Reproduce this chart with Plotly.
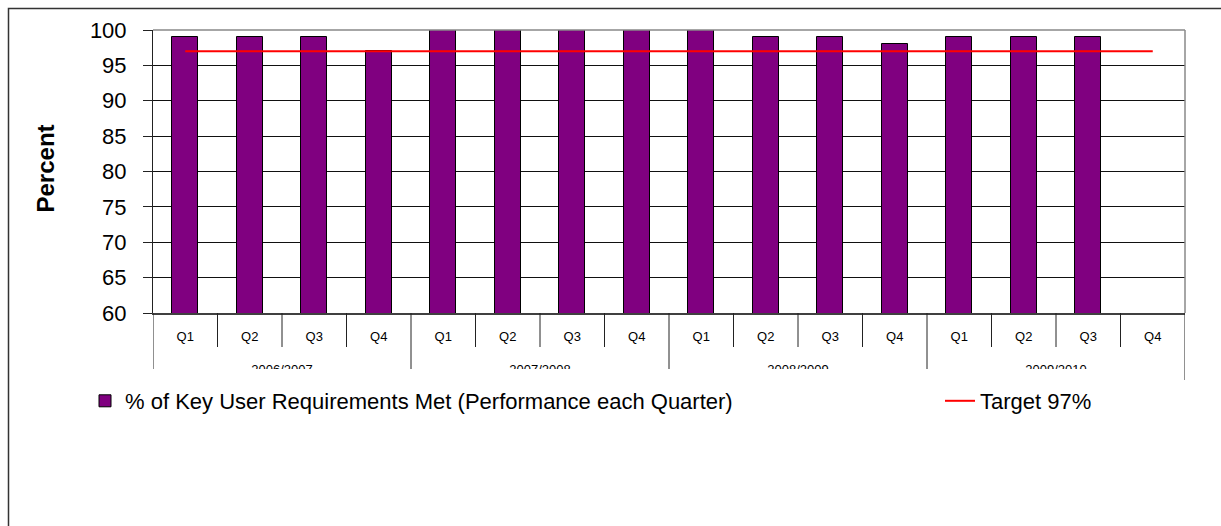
import plotly.graph_objects as go

years = ["2006/2007", "2007/2008", "2008/2009", "2009/2010"]
quarters = ["Q1", "Q2", "Q3", "Q4"]
categories = [q for y in years for q in quarters]
performance = [99, 99, 99, 97, 100, 100, 100, 100, 100, 99, 99, 98, 99, 99, 99, None]
target = [97] * len(categories)
bar_name = "% of Key User Requirements Met (Performance each Quarter)"
line_name = "Target 97%"

W, H = 1221, 526
ML, MR, MT, MB = 153, 36, 30, 157
PW = W - ML - MR
plot_h = H - MT - MB
axis_px = 313  # pixel of y=60
d = (H - MB - axis_px) / plot_h

xs = list(range(len(categories)))
FONT = "Arial, Liberation Sans, sans-serif"

fig = go.Figure()
fig.add_trace(go.Bar(x=xs, y=performance, width=0.4, name=bar_name,
                     marker=dict(color="#800080", line=dict(color="black", width=1)),
                     xaxis="x", yaxis="y", legend="legend"))
fig.add_trace(go.Scatter(x=xs, y=target, mode="lines", name=line_name,
                         line=dict(color="#FF0000", width=2), xaxis="x", yaxis="y",
                         legend="legend2"))

# year labels (clipped to their strip)
nq = len(quarters)
year_x = [i * nq + (nq - 1) / 2 for i in range(len(years))]
fig.add_trace(go.Scatter(x=year_x, y=[-0.035] * len(years), mode="text", text=years,
                         textfont=dict(size=13, color="black", family=FONT),
                         textposition="middle center", cliponaxis=True,
                         showlegend=False, hoverinfo="skip", xaxis="x2", yaxis="y2"))

shapes = []
def ypaper(px):
    return (H - MB - px) / plot_h

# separators
for b in range(len(categories) + 1):
    xb = b - 0.5
    if b % nq == 0:
        bottom = 380 if b == len(categories) else H - MB
    else:
        bottom = 347
    shapes.append(dict(type="line", xref="x", yref="paper", x0=xb, x1=xb,
                       y0=ypaper(axis_px), y1=ypaper(bottom),
                       line=dict(color="#222", width=1)))
# top and right gray frame
shapes.append(dict(type="line", xref="paper", yref="paper", x0=0, x1=1, y0=1, y1=1,
                   line=dict(color="#888", width=1.5), layer="above"))
shapes.append(dict(type="line", xref="paper", yref="paper", x0=1, x1=1, y0=d, y1=1,
                   line=dict(color="#888", width=1.5), layer="above"))
# outer chart border
shapes.append(dict(type="rect", xref="paper", yref="paper",
                   x0=(8.5 - ML) / PW, x1=(W + 10 - ML) / PW,
                   y0=ypaper(H + 10), y1=ypaper(8.5),
                   line=dict(color="#333", width=1.5), fillcolor="rgba(0,0,0,0)"))

fig.update_layout(
    width=W, height=H,
    margin=dict(l=ML, r=MR, t=MT, b=MB),
    paper_bgcolor="white", plot_bgcolor="white",
    font=dict(family=FONT, color="black"),
    bargap=0,
    xaxis=dict(range=[-0.5, len(categories) - 0.5], tickvals=xs, ticktext=categories,
               ticks="", ticklabelstandoff=10, tickfont=dict(size=13),
               showgrid=False, zeroline=False, showline=True,
               linecolor="#404040", linewidth=2, anchor="y", fixedrange=True),
    yaxis=dict(range=[60, 100], dtick=5, domain=[d, 1], ticks="outside", ticklen=9,
               tickcolor="#222", tickfont=dict(size=22), ticklabelstandoff=12,
               showgrid=True, gridcolor="#111", gridwidth=1, zeroline=False,
               showline=True, linecolor="#222", linewidth=1, anchor="x"),
    xaxis2=dict(range=[-0.5, len(categories) - 0.5], visible=False, anchor="y2"),
    yaxis2=dict(range=[0, 1], domain=[0, d], visible=False, anchor="x2"),
    shapes=shapes,
    showlegend=True,
    legend=dict(orientation="h", x=(85 - ML) / PW, xanchor="left",
                y=ypaper(401), yanchor="middle", font=dict(size=22),
                bgcolor="rgba(0,0,0,0)"),
    legend2=dict(orientation="h", x=(940 - ML) / PW, xanchor="left",
                 y=ypaper(401), yanchor="middle", font=dict(size=22),
                 bgcolor="rgba(0,0,0,0)"),
    annotations=[dict(text="<b>Percent</b>", xref="paper", yref="paper",
                      x=(44.5 - ML) / PW, y=ypaper(169), textangle=-90,
                      showarrow=False, font=dict(size=24), xanchor="center",
                      yanchor="middle")],
)

fig.write_html("out.html")
